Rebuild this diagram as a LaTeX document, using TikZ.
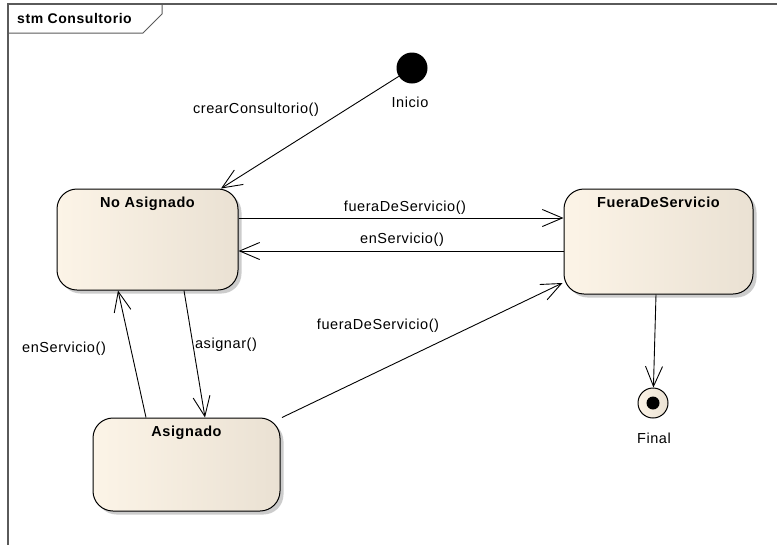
\documentclass[tikz,border=0pt]{standalone}
\usepackage{fontspec}
\setmainfont{Liberation Sans}[LetterSpace=4]
\usetikzlibrary{arrows.meta,shadows}
\definecolor{cfillL}{RGB}{252,244,231}
\definecolor{cfillR}{RGB}{234,225,211}
\definecolor{framec}{RGB}{90,90,90}
\tikzset{
  statebox/.style={draw=black, line width=1pt, rounded corners=20pt,
    left color=cfillL, right color=cfillR,
    drop shadow={shadow xshift=3.5pt, shadow yshift=-3.5pt, fill=black!40, opacity=0.5},
    inner sep=0pt},
  stitle/.style={font=\fontsize{14.5}{16}\selectfont\bfseries, inner sep=0pt},
  lbl/.style={font=\fontsize{14.5}{16}\selectfont, inner sep=0pt},
  trans/.style={draw=black, line width=0.9pt, -{Straight Barb[length=20pt,width=17pt,line width=0.9pt]}},
}
\begin{document}
\begin{tikzpicture}[x=1pt,y=-1pt]
\useasboundingbox (0,0) rectangle (777,544);
% frame
\draw[framec, line width=1.2pt] (8,545) -- (8,4) -- (778,4);
\draw[framec, line width=1pt] (8,33) -- (143,33) -- (162,14) -- (162,4);
\node[stitle, font=\fontsize{14}{16}\selectfont\bfseries, anchor=west] (title) at (17,18) {stm Consultorio};

% states
\node[statebox, minimum width=181pt, minimum height=101pt,
  label={[stitle, anchor=north, yshift=-8pt]north:No Asignado}] (na) at (147.5,239.5) {};
\node[statebox, minimum width=189pt, minimum height=105pt,
  label={[stitle, anchor=north, yshift=-8pt]north:FueraDeServicio}] (fds) at (658.5,241.5) {};
\node[statebox, minimum width=187pt, minimum height=93pt,
  label={[stitle, anchor=north, yshift=-8pt]north:Asignado}] (as) at (186.5,464.5) {};

% initial / final
\node[circle, fill=black, minimum size=31pt, inner sep=0pt] (init) at (412,68) {};
\node[lbl] (initl) at (410,102) {Inicio};
\node[circle, draw=black, line width=1pt, left color=cfillL, right color=cfillR, minimum size=30pt, inner sep=0pt] (fin) at (653,403) {};
\node[circle, fill=black, minimum size=13pt, inner sep=0pt] (fininner) at (fin) {};
\node[lbl] (finl) at (654,438) {Final};

% transitions
\draw[trans] (init) -- ([xshift=73.5pt]na.north);
\draw[trans] ([yshift=21.5pt]na.east) -- ([yshift=23.5pt]fds.west);
\draw[trans] ([yshift=-9.5pt]fds.west) -- ([yshift=-11.5pt]na.east);
\draw[trans] ([xshift=36.5pt]na.south) -- ([xshift=18.5pt]as.north);
\draw[trans] ([xshift=-40.5pt]as.north) -- ([xshift=-29.5pt]na.south);
\draw[trans] ([xshift=95.5pt]as.north) -- ([xshift=-1pt,yshift=-41.5pt]fds.west);
\draw[trans] ([xshift=-2.5pt]fds.south) -- (fin);

% labels
\node[lbl] (l1) at (256,110) {crearConsultorio()};
\node[lbl] (l2) at (405,208) {fueraDeServicio()};
\node[lbl] (l3) at (402,240) {enServicio()};
\node[lbl] (l4) at (226,345) {asignar()};
\node[lbl] (l5) at (64,349) {enServicio()};
\node[lbl] (l6) at (378,326) {fueraDeServicio()};
\end{tikzpicture}
\end{document}
